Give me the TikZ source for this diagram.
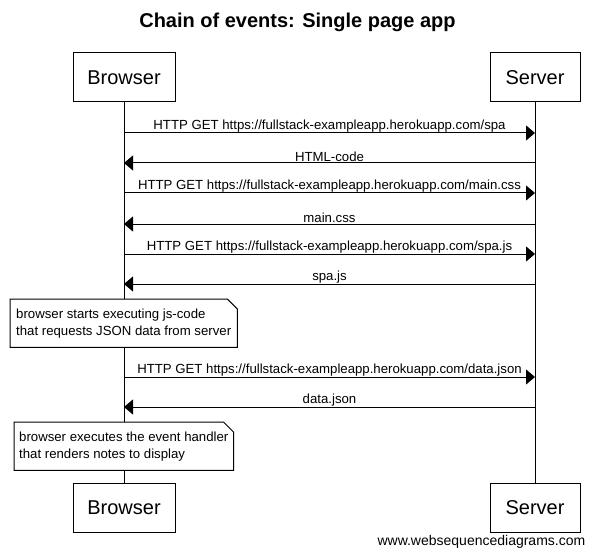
\documentclass[tikz,border=0pt]{standalone}
\usepackage{fontspec}
\setmainfont{Liberation Sans}
\usetikzlibrary{arrows.meta,calc}
\pgfdeclarelayer{bg}
\pgfsetlayers{bg,main}
\begin{document}
\begin{tikzpicture}[x=1pt,y=-1pt,
  actor/.style={draw, line width=1pt, minimum height=49pt, inner sep=0pt,
    font=\fontsize{20}{24}\selectfont},
  life/.style={line width=1pt},
  msg/.style={line width=1pt, -{Triangle[length=9pt,width=15pt]}},
  lbl/.style={font=\fontsize{13.2}{15}\selectfont, inner xsep=2pt, inner ysep=0.5pt},
  notebox/.style={fill=white, minimum height=48pt, inner xsep=5pt, inner ysep=0pt,
    align=left, font=\fontsize{13.2}{17}\selectfont},
  noteline/.style={line width=1pt}
]
\useasboundingbox (0,0) rectangle (594,556);

\node[font=\bfseries\fontsize{20}{24}\selectfont] (title) at (297.5,22) {Chain of events: Single page app};

\node[actor, minimum width=102pt] (bt) at (124,77.5) {Browser};
\node[actor, minimum width=90pt] (st) at (535,77.5) {Server};
\node[actor, minimum width=102pt] (bb) at (124,507.5) {Browser};
\node[actor, minimum width=90pt] (sb) at (535,507.5) {Server};

\begin{pgfonlayer}{bg}
\draw[life] (bt) -- (bb);
\draw[life] (st) -- (sb);
\end{pgfonlayer}

% message rows
\foreach \n/\y in {1/133,2/163,3/193,4/224,5/254,6/284,7/377,8/407}{
  \coordinate (y\n) at (0,\y);
  \coordinate (b\n) at (bt.south |- y\n);
  \coordinate (s\n) at (st.south |- y\n);
}

\draw[msg] (b1) -- node[lbl, above] (l1) {HTTP GET https://fullstack-exampleapp.herokuapp.com/spa} (s1);
\draw[msg] (s2) -- node[lbl, above] (l2) {HTML-code} (b2);
\draw[msg] (b3) -- node[lbl, above] (l3) {HTTP GET https://fullstack-exampleapp.herokuapp.com/main.css} (s3);
\draw[msg] (s4) -- node[lbl, above] (l4) {main.css} (b4);
\draw[msg] (b5) -- node[lbl, above] (l5) {HTTP GET https://fullstack-exampleapp.herokuapp.com/spa.js} (s5);
\draw[msg] (s6) -- node[lbl, above] (l6) {spa.js} (b6);
\draw[msg] (b7) -- node[lbl, above] (l7) {HTTP GET https://fullstack-exampleapp.herokuapp.com/data.json} (s7);
\draw[msg] (s8) -- node[lbl, above] (l8) {data.json} (b8);

% notes
\node[notebox, minimum width=227pt, anchor=north west] (n1) at (10,299)
  {browser starts executing js-code\\that requests JSON data from server};
\draw[noteline] (n1.south west) -- (n1.north west) -- ([xshift=-10pt]n1.north east)
  -- ([yshift=-10pt]n1.north east) -- (n1.south east) -- cycle;

\node[notebox, minimum width=219pt, anchor=north west] (n2) at (14,422)
  {browser executes the event handler\\that renders notes to display};
\draw[noteline] (n2.south west) -- (n2.north west) -- ([xshift=-10pt]n2.north east)
  -- ([yshift=-10pt]n2.north east) -- (n2.south east) -- cycle;

\node[anchor=east, inner sep=0pt, font=\fontsize{14}{16}\selectfont] (foot) at (585.5,541.5)
  {www.websequencediagrams.com};
\end{tikzpicture}
\end{document}
